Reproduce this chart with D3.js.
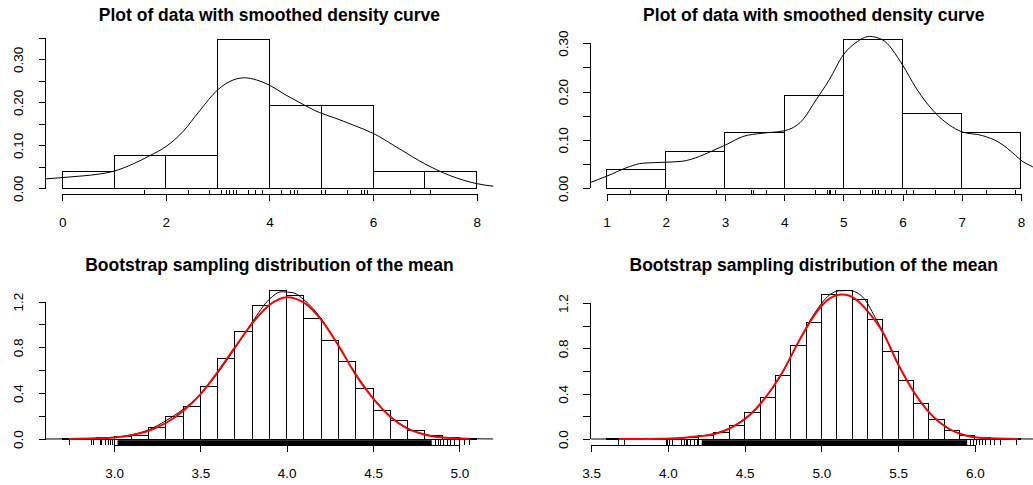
<!DOCTYPE html>
<html>
<head>
<meta charset="utf-8">
<script src="https://cdn.jsdelivr.net/npm/d3@7"></script>
<style>
	body { margin: 0; background: #fff; }
	svg { display: block; font-family: "Liberation Sans", Arial, Helvetica, sans-serif; }
</style>
</head>
<body>
<div id="chart"></div>
<script>
// ---- values ----

// top left: sample A
var breaksA = [0, 1, 2, 3, 4, 5, 6, 7, 8];
var densA = [0.0385, 0.0769, 0.0769, 0.3462, 0.1923, 0.1923, 0.0385, 0.0385];
var rugA = [1.59, 2.44, 2.85, 3.07, 3.18, 3.23, 3.30, 3.36, 3.60, 3.73, 3.86, 4.23, 4.41, 4.48, 4.55,
	5.00, 5.09, 5.50, 5.78, 5.83, 5.89, 6.72, 7.10];
var curveA = [[-0.45, 0.021], [-0.32, 0.022], [0.0, 0.025], [0.4, 0.029], [0.7, 0.033], [1.0, 0.040],
	[1.37, 0.057], [1.69, 0.076], [2.0, 0.097], [2.33, 0.132], [2.65, 0.180], [3.0, 0.229], [3.3, 0.252],
	[3.52, 0.257], [3.75, 0.252], [4.0, 0.240], [4.26, 0.221], [4.59, 0.199], [4.97, 0.176], [5.23, 0.165],
	[5.62, 0.147], [6.0, 0.128], [6.52, 0.091], [7.0, 0.057], [7.48, 0.030], [8.0, 0.011], [8.32, 0.005],
	[8.5, 0.003]];

// top right: sample B
var breaksB = [1, 2, 3, 4, 5, 6, 7, 8];
var densB = [0.0385, 0.0769, 0.1154, 0.1923, 0.3077, 0.1538, 0.1154];
var rugB = [1.41, 2.04, 2.86, 3.45, 3.48, 3.70, 4.53, 4.74, 4.76, 4.78, 4.86, 5.29, 5.49, 5.54, 5.60,
	5.71, 5.81, 6.06, 6.19, 6.55, 6.87, 7.42, 7.91];
var curveB = [[0.6, 0.006], [0.72, 0.0117], [1.0, 0.025], [1.39, 0.045], [1.61, 0.052], [2.0, 0.054],
	[2.28, 0.056], [2.57, 0.066], [2.85, 0.081], [3.0, 0.089], [3.3, 0.107], [3.64, 0.114], [4.0, 0.119],
	[4.31, 0.141], [4.54, 0.183], [4.76, 0.224], [5.0, 0.276], [5.21, 0.301], [5.44, 0.314], [5.66, 0.307],
	[6.0, 0.255], [6.23, 0.207], [6.56, 0.155], [6.79, 0.131], [7.0, 0.117], [7.35, 0.109], [7.63, 0.095],
	[7.91, 0.068], [8.0, 0.058], [8.19, 0.045], [8.4, 0.030]];

// bottom left: bootstrap means of sample A
var breaksC = [2.7, 2.8, 2.9, 3.0, 3.1, 3.2, 3.3, 3.4, 3.5, 3.6, 3.7, 3.8, 3.9, 4.0, 4.1, 4.2, 4.3, 4.4,
	4.5, 4.6, 4.7, 4.8, 4.9, 5.0, 5.1];
var densC = [0.004, 0.008, 0.010, 0.020, 0.030, 0.099, 0.200, 0.285, 0.462, 0.706, 0.939, 1.162, 1.299,
	1.255, 1.055, 0.860, 0.677, 0.445, 0.250, 0.160, 0.073, 0.032, 0.015, 0.004];
var rugBandC = [3.02, 4.84];
var rugC = [2.74, 2.87, 2.88, 2.92, 2.93, 2.95, 2.97, 2.98, 2.99, 3.00, 4.86, 4.88, 4.89, 4.91, 4.93,
	4.95, 4.97, 5.00, 5.03, 5.06];
var kdeC = [[2.55, 0.0], [2.7, 0.001], [2.8, 0.003], [2.9, 0.007], [3.0, 0.016], [3.1, 0.036],
	[3.2, 0.080], [3.3, 0.160], [3.4, 0.260], [3.5, 0.390], [3.6, 0.575], [3.7, 0.790], [3.8, 1.020],
	[3.9, 1.220], [3.97, 1.285], [4.04, 1.275], [4.1, 1.215], [4.2, 1.050], [4.3, 0.810], [4.4, 0.570],
	[4.5, 0.360], [4.6, 0.200], [4.7, 0.095], [4.8, 0.042], [4.9, 0.016], [5.0, 0.006], [5.1, 0.002],
	[5.25, 0.0]];
var normC = [[2.74, 0.0], [2.9, 0.006], [3.0, 0.014], [3.1, 0.034], [3.2, 0.072], [3.3, 0.140],
	[3.4, 0.245], [3.5, 0.390], [3.6, 0.585], [3.7, 0.800], [3.8, 1.010], [3.9, 1.170], [4.0, 1.238],
	[4.1, 1.190], [4.2, 1.040], [4.3, 0.815], [4.4, 0.560], [4.5, 0.355], [4.6, 0.195], [4.7, 0.090],
	[4.8, 0.038], [4.9, 0.013], [5.0, 0.004], [5.06, 0.002]];

// bottom right: bootstrap means of sample B
var breaksD = [3.6, 3.7, 3.8, 3.9, 4.0, 4.1, 4.2, 4.3, 4.4, 4.5, 4.6, 4.7, 4.8, 4.9, 5.0, 5.1, 5.2, 5.3,
	5.4, 5.5, 5.6, 5.7, 5.8, 5.9, 6.0, 6.1, 6.2, 6.3];
var densD = [0.002, 0.002, 0.0, 0.002, 0.006, 0.016, 0.032, 0.056, 0.120, 0.235, 0.368, 0.562, 0.824,
	1.030, 1.274, 1.315, 1.233, 1.056, 0.777, 0.518, 0.315, 0.170, 0.074, 0.032, 0.012, 0.006, 0.002];
var rugBandD = [4.22, 5.95];
var rugD = [3.68, 3.72, 3.99, 4.00, 4.01, 4.03, 4.09, 4.11, 4.12, 4.13, 4.15, 4.17, 4.19, 4.20,
	5.97, 5.99, 6.01, 6.03, 6.05, 6.07, 6.10, 6.13, 6.17, 6.27];
var kdeD = [[3.5, 0.0], [3.7, 0.001], [4.0, 0.004], [4.2, 0.025], [4.31, 0.050], [4.42, 0.110],
	[4.53, 0.215], [4.63, 0.360], [4.74, 0.570], [4.85, 0.860], [4.96, 1.120], [5.05, 1.270], [5.12, 1.310],
	[5.18, 1.312], [5.27, 1.253], [5.35, 1.076], [5.4, 0.950], [5.5, 0.660], [5.61, 0.395], [5.72, 0.205],
	[5.83, 0.090], [5.94, 0.033], [6.05, 0.010], [6.2, 0.002], [6.4, 0.0], [6.6, 0.0]];
var normD = [[3.68, 0.0], [3.98, 0.003], [4.2, 0.024], [4.31, 0.047], [4.42, 0.106], [4.53, 0.209],
	[4.63, 0.356], [4.74, 0.576], [4.85, 0.856], [4.96, 1.106], [5.05, 1.238], [5.135, 1.276], [5.22, 1.238],
	[5.31, 1.115], [5.4, 0.944], [5.5, 0.660], [5.61, 0.400], [5.72, 0.209], [5.83, 0.091], [5.94, 0.032],
	[6.05, 0.009], [6.28, 0.0]];

// axis ticks and labels
var xTicksA = [0, 2, 4, 6, 8];
var xTicksB = [1, 2, 3, 4, 5, 6, 7, 8];
var xTicksC = [3.0, 3.5, 4.0, 4.5, 5.0];
var xTicksD = [3.5, 4.0, 4.5, 5.0, 5.5, 6.0];
var yTicksTop = [0, 0.05, 0.10, 0.15, 0.20, 0.25, 0.30, 0.35];
var yLabelsTop = [0, 0.10, 0.20, 0.30];
var yTicksBottom = [0, 0.2, 0.4, 0.6, 0.8, 1.0, 1.2];
var yLabelsBottom = [0, 0.4, 0.8, 1.2];

var titleTop = 'Plot of data with smoothed density curve';
var titleBottom = 'Bootstrap sampling distribution of the mean';

// ---- layout ----
var svgWidth = 1033;
var svgHeight = 485;
var plotWidth = 447.5;
var plotHeight = 160.8;
var rugLength = 4.8;
var tickLength = 7;
var axisFont = 13.5;
var titleFont = 17.5;

var svg = d3.select('#chart').append('svg').attr('width', svgWidth).attr('height', svgHeight);

var panels = [
	{ left: 45.7, bottom: 194.3, breaks: breaksA, dens: densA, rug: rugA, curves: [ { pts: curveA, color: '#000', width: 1 } ],
		xTicks: xTicksA, xFmt: d3.format('d'), yTicks: yTicksTop.slice(0, 8), yLabels: yLabelsTop, yFmt: d3.format('.2f'), title: titleTop },
	{ left: 590, bottom: 194.3, breaks: breaksB, dens: densB, rug: rugB, curves: [ { pts: curveB, color: '#000', width: 1 } ],
		xTicks: xTicksB, xFmt: d3.format('d'), yTicks: yTicksTop.slice(0, 7), yLabels: yLabelsTop, yFmt: d3.format('.2f'), title: titleTop },
	{ left: 45.7, bottom: 445, breaks: breaksC, dens: densC, rug: rugC, band: rugBandC,
		curves: [ { pts: kdeC, color: '#000', width: 1 }, { pts: normC, color: '#ff0000', width: 2 } ],
		xTicks: xTicksC, xFmt: d3.format('.1f'), yTicks: yTicksBottom, yLabels: yLabelsBottom, yFmt: d3.format('.1f'), title: titleBottom },
	{ left: 590, bottom: 445, breaks: breaksD, dens: densD, rug: rugD, band: rugBandD,
		curves: [ { pts: kdeD, color: '#000', width: 1 }, { pts: normD, color: '#ff0000', width: 2 } ],
		xTicks: xTicksD, xFmt: d3.format('.1f'), yTicks: yTicksBottom, yLabels: yLabelsBottom, yFmt: d3.format('.1f'), title: titleBottom }
];

function drawPanel(p, idx) {
	var left = p.left;
	var right = left + plotWidth;
	var bottom = p.bottom;
	var top = bottom - plotHeight;

	// R style ranges: 4% padding around breaks and bar heights
	var b0 = p.breaks[0];
	var bn = p.breaks[p.breaks.length - 1];
	var yMax = d3.max(p.dens);
	var x = d3.scaleLinear().domain([ b0 - 0.04 * (bn - b0), bn + 0.04 * (bn - b0) ]).range([ left, right ]);
	var y = d3.scaleLinear().domain([ -0.04 * yMax, 1.04 * yMax ]).range([ bottom, top ]);

	svg.append('clipPath').attr('id', 'clip' + idx)
		.append('rect').attr('x', left).attr('y', top).attr('width', plotWidth).attr('height', plotHeight);

	var plot = svg.append('g').attr('clip-path', `url(#clip${idx})`);

	// histogram bars
	plot.selectAll('.bar')
		.data(p.dens)
		.enter()
		.append('rect')
		.attr('class', 'bar')
		.attr('x', (d, i) => x(p.breaks[i]))
		.attr('width', (d, i) => x(p.breaks[i + 1]) - x(p.breaks[i]))
		.attr('y', (d) => y(d))
		.attr('height', (d) => y(0) - y(d))
		.attr('fill', 'none')
		.attr('stroke', '#000')
		.attr('stroke-width', 1)
		.attr('shape-rendering', 'crispEdges');

	// rug
	if (p.band) {
		plot.append('rect')
			.attr('x', x(p.band[0]))
			.attr('width', x(p.band[1]) - x(p.band[0]))
			.attr('y', bottom - rugLength)
			.attr('height', rugLength)
			.attr('fill', '#000');
	}
	plot.selectAll('.rug')
		.data(p.rug)
		.enter()
		.append('line')
		.attr('class', 'rug')
		.attr('x1', (d) => x(d))
		.attr('x2', (d) => x(d))
		.attr('y1', bottom)
		.attr('y2', bottom - rugLength)
		.attr('stroke', '#000')
		.attr('shape-rendering', 'crispEdges');

	// density curves
	var line = d3.line().x((d) => x(d[0])).y((d) => y(d[1])).curve(d3.curveMonotoneX);
	p.curves.forEach(function(c) {
		plot.append('path')
			.attr('d', line(c.pts))
			.attr('fill', 'none')
			.attr('stroke', c.color)
			.attr('stroke-width', c.width);
	});

	// x axis, line only between first and last tick
	var xAxis = svg.append('g')
		.attr('transform', `translate(0, ${bottom})`)
		.call(d3.axisBottom(x).tickValues(p.xTicks).tickSize(tickLength).tickFormat(p.xFmt));
	xAxis.select('.domain').remove();
	xAxis.append('line')
		.attr('x1', x(p.xTicks[0]))
		.attr('x2', x(p.xTicks[p.xTicks.length - 1]))
		.attr('stroke', '#000')
		.attr('shape-rendering', 'crispEdges');
	xAxis.attr('font-size', axisFont).attr('font-family', null);
	xAxis.selectAll('.tick line').attr('shape-rendering', 'crispEdges');
	xAxis.selectAll('text').attr('y', 33).attr('dy', 0).attr('fill', '#000');

	// y axis with rotated labels
	var yAxis = svg.append('g')
		.attr('transform', `translate(${left}, 0)`)
		.call(d3.axisLeft(y).tickValues(p.yTicks).tickSize(tickLength)
			.tickFormat((d) => (p.yLabels.indexOf(d) >= 0 ? p.yFmt(d) : '')));
	yAxis.select('.domain').remove();
	yAxis.append('line')
		.attr('y1', y(p.yTicks[0]))
		.attr('y2', y(p.yTicks[p.yTicks.length - 1]))
		.attr('stroke', '#000')
		.attr('shape-rendering', 'crispEdges');
	yAxis.attr('font-size', axisFont).attr('font-family', null);
	yAxis.selectAll('.tick line').attr('shape-rendering', 'crispEdges');
	yAxis.selectAll('text')
		.attr('transform', 'rotate(-90)')
		.attr('x', 0)
		.attr('y', -22.5)
		.attr('dy', 0)
		.attr('text-anchor', 'middle')
		.attr('fill', '#000');

	// title
	svg.append('text')
		.attr('x', (left + right) / 2)
		.attr('y', top - 13)
		.attr('text-anchor', 'middle')
		.attr('font-size', titleFont)
		.attr('font-weight', 'bold')
		.text(p.title);
}

panels.forEach(drawPanel);
</script>
</body>
</html>
